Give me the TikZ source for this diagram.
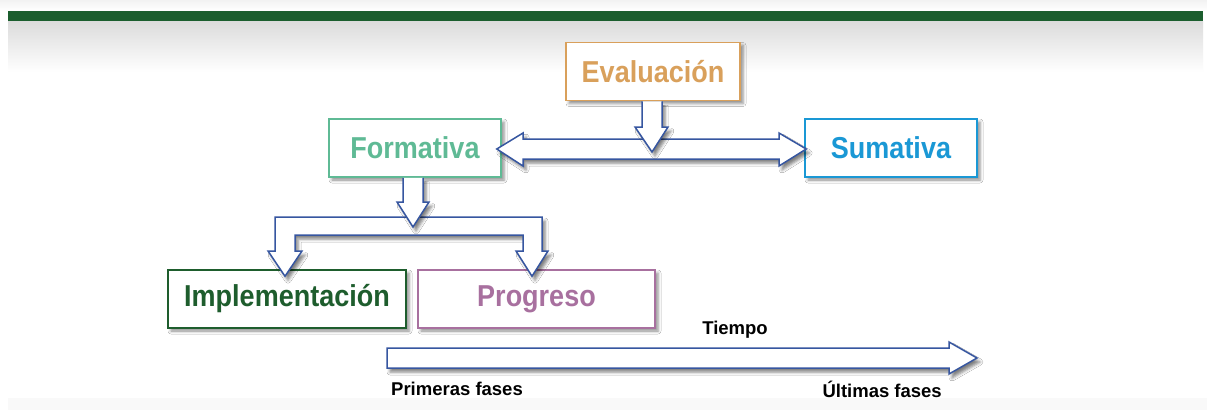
\documentclass[tikz,border=0pt]{standalone}
\usepackage{fontspec}
\setmainfont{Liberation Sans}
\usetikzlibrary{calc,shadows.blur}
\definecolor{barG}{HTML}{1B5E2E}
\definecolor{evalC}{HTML}{D9A05B}
\definecolor{formC}{HTML}{5FBA95}
\definecolor{sumC}{HTML}{1A98D5}
\definecolor{implC}{HTML}{1E5D2D}
\definecolor{progC}{HTML}{A8709F}
\definecolor{arrB}{HTML}{3656A0}
\newcommand{\boxtxt}[1]{\scalebox{1}[1.12]{#1}}
\tikzset{
  box/.style={draw=#1, text=#1, line width=1.5pt, fill=white,
    font=\bfseries\fontsize{27}{27}\selectfont, minimum height=58pt, inner sep=0pt,
    blur shadow={shadow xshift=3pt, shadow yshift=-3pt, shadow blur radius=3pt, shadow opacity=45}},
  blk/.style={draw=arrB, line width=1.5pt, fill=white, line join=miter,
    blur shadow={shadow xshift=3pt, shadow yshift=-4pt, shadow blur radius=3pt, shadow opacity=50}},
  lbl/.style={font=\bfseries\fontsize{18.5}{18.5}\selectfont, text=black, inner sep=0pt}
}
\begin{document}
\begin{tikzpicture}[x=1pt,y=-1pt]
\useasboundingbox (0,0) rectangle (1207,410);
% background
\fill[white] (0,0) rectangle (1207,410);
\shade[top color=gray!10, bottom color=white] (0,0) rectangle (1207,11);
\fill[barG] (8,11) rectangle (1203,21);
\shade[top color=gray!28, bottom color=white] (8,21) rectangle (1203,72);
\fill[gray!5] (8,398) rectangle (1207,410);

% boxes
\node[box=evalC, minimum width=174pt] (eval) at (653,71.5) {\boxtxt{Evaluación}};
\node[box=formC, minimum width=172pt] (form) at (415,148) {\boxtxt{Formativa}};
\node[box=sumC, minimum width=172pt] (sum) at (891,148) {\boxtxt{Sumativa}};
\node[box=implC, minimum width=238pt] (impl) at (287,299) {\boxtxt{Implementación}};
\node[box=progC, minimum width=237pt] (prog) at (536.5,299) {\boxtxt{Progreso}};

% double arrow Formativa <-> Sumativa
\draw[blk] ($(form.east)+(-5,1)$) -- (523,133) -- (523,139) -- (779,139) -- (779,133)
  -- ($(sum.west)+(2,1)$) -- (779,166) -- (779,159) -- (523,159) -- (523,166) -- cycle;

% Evaluacion down arrow
\draw[blk] ($(eval.south)+(-11,0)$) -- (642,127) -- (635,127) -- (652,152) -- (668,127)
  -- (662,127) -- ($(eval.south)+(9,0)$);

% branch arrow from Formativa to Implementacion and Progreso
\draw[blk] ($(impl.north)+(-2,7)$) -- (268,251) -- (275,251) -- (275,217) -- (542,217) -- (542,251)
  -- (548,251) -- ($(prog.north)+(-4.5,7)$) -- (516,251) -- (523,251) -- (523,235) -- (295,235)
  -- (295,251) -- (302,251) -- cycle;

% Formativa down arrow
\draw[blk] ($(form.south)+(-12,0)$) -- (403,202) -- (397,202) -- (413,227) -- (429,202)
  -- (423,202) -- ($(form.south)+(8,0)$);

% time arrow
\coordinate (t0) at (387,358);
\coordinate (t1) at (977,358);
\draw[blk] ($(t0)+(0,-10)$) -- (949,348) -- (949,342) -- (t1) -- (949,374) -- (949,368)
  -- ($(t0)+(0,10)$) -- cycle;

\node[lbl] (tiempo) at (735,330) {Tiempo};
\node[lbl, anchor=west] (prim) at (391,389) {Primeras fases};
\node[lbl, anchor=east] (ult) at (942,389) {Últimas fases};
\end{tikzpicture}
\end{document}
